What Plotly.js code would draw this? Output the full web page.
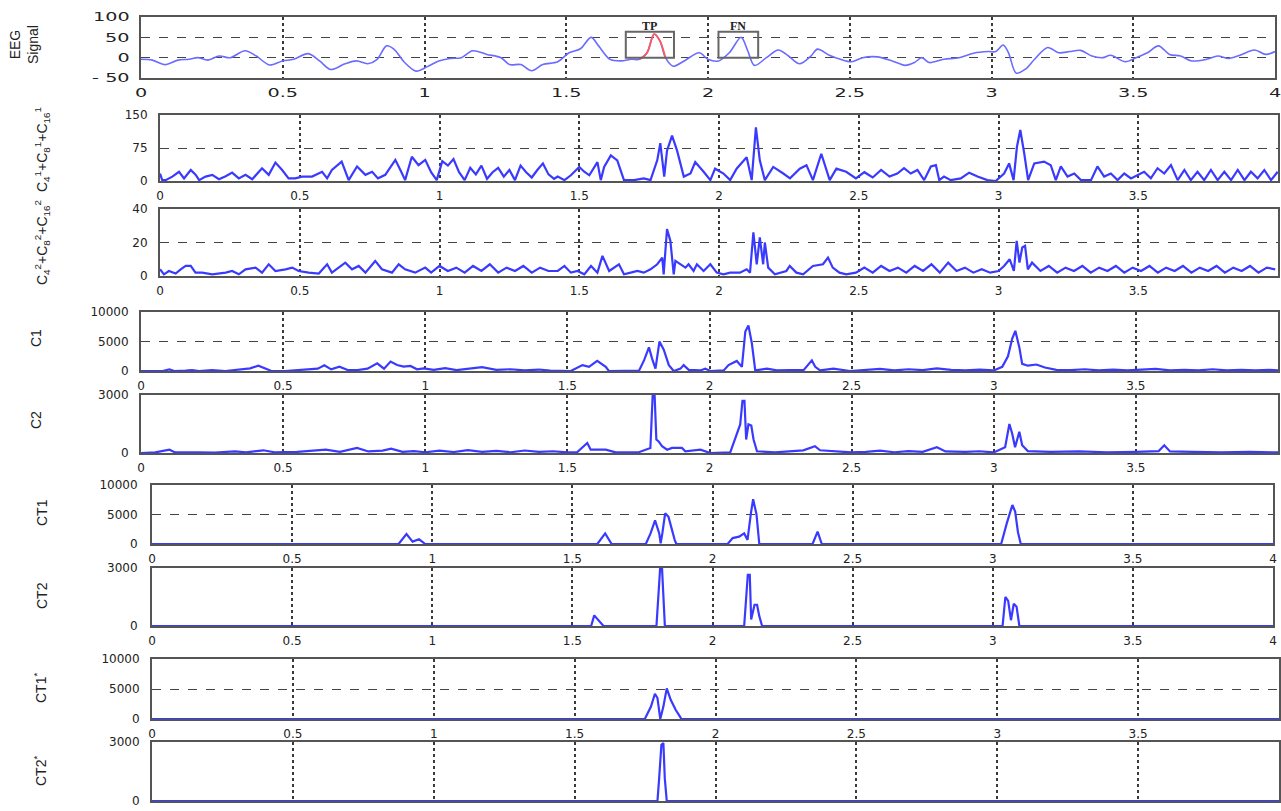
<!DOCTYPE html>
<html><head><meta charset="utf-8">
<script src="https://cdn.plot.ly/plotly-3.0.1.min.js"></script>
<style>html,body{margin:0;padding:0;background:#fff;}#chart{width:1281px;height:811px;}</style>
</head><body><div id="chart"></div>
<script>
// ---------- DATA ----------
const xTickVals = [0,0.5,1,1.5,2,2.5,3,3.5,4];
const xTickText = ['0','0.5','1','1.5','2','2.5','3','3.5','4'];

// EEG signal [time s, amplitude]
const eegSignal = [[0,-4],[0.04,-6],[0.085,-17],[0.13,-6],[0.17,-4],[0.2,0],[0.236,-6],[0.276,4],[0.315,0],[0.367,17],[0.407,4],[0.453,-18],[0.499,-8],[0.538,-4],[0.59,10],[0.63,-8],[0.669,-29],[0.72,-15],[0.76,-8],[0.8,-15],[0.833,-4],[0.866,29],[0.892,21],[0.93,-12],[0.97,-33],[1.01,-22],[1.05,-8],[1.09,-2],[1.13,0],[1.17,17],[1.22,8],[1.27,0],[1.3,-17],[1.34,-17],[1.378,-32],[1.417,-17],[1.47,-10],[1.51,12],[1.55,22],[1.588,50],[1.614,29],[1.654,-4],[1.693,-8],[1.73,-4],[1.758,-4],[1.785,12],[1.81,58],[1.83,42],[1.85,0],[1.877,-21],[1.916,-8],[1.969,12],[2.0,-4],[2.037,-8],[2.075,12],[2.117,50],[2.14,17],[2.164,-19],[2.206,0],[2.248,19],[2.284,4],[2.323,-15],[2.363,4],[2.386,21],[2.428,6],[2.467,-4],[2.506,-10],[2.545,0],[2.597,2],[2.65,-8],[2.695,-19],[2.728,-12],[2.754,0],[2.78,-12],[2.832,-4],[2.885,0],[2.937,11],[2.989,15],[3.015,15],[3.041,31],[3.06,12],[3.087,-38],[3.12,-28],[3.152,-4],[3.198,25],[3.237,12],[3.276,15],[3.315,18],[3.354,4],[3.393,0],[3.42,6],[3.472,-10],[3.51,0],[3.55,12],[3.589,29],[3.628,8],[3.667,4],[3.706,-8],[3.759,-4],[3.798,4],[3.837,-2],[3.876,6],[3.928,19],[3.967,8],[4.0,15]];
const tpSpan = [1.755, 1.855];          // red (true positive) part of the EEG
const tpBox = {t0:1.71, t1:1.88, top:64, label:'TP'};
const fnBox = {t0:2.037, t1:2.177, top:64, label:'FN'};

// C^1_4 + C^1_8 + C^1_16
const sumLevel1 = [[0,17],[0.008,2],[0.02,2],[0.044,10],[0.068,21],[0.086,6],[0.11,25],[0.128,14],[0.14,2],[0.163,10],[0.187,14],[0.211,4],[0.235,11],[0.258,19],[0.282,6],[0.306,14],[0.33,4],[0.365,29],[0.389,14],[0.413,42],[0.437,25],[0.46,6],[0.484,6],[0.508,10],[0.544,10],[0.58,21],[0.598,6],[0.615,25],[0.65,44],[0.675,2],[0.705,33],[0.735,14],[0.759,21],[0.78,6],[0.806,14],[0.842,48],[0.86,25],[0.877,2],[0.901,55],[0.925,36],[0.949,48],[0.97,20],[0.99,2],[1.01,45],[1.03,35],[1.05,50],[1.07,20],[1.09,2],[1.11,30],[1.13,15],[1.15,35],[1.17,5],[1.19,20],[1.21,30],[1.23,10],[1.25,25],[1.27,2],[1.29,35],[1.31,20],[1.33,8],[1.35,25],[1.37,40],[1.39,15],[1.41,5],[1.423,10],[1.447,2],[1.47,13],[1.5,32],[1.518,21],[1.536,13],[1.565,43],[1.577,2],[1.589,32],[1.613,58],[1.636,47],[1.66,2],[1.696,2],[1.731,6],[1.755,2],[1.779,47],[1.79,86],[1.804,10],[1.814,69],[1.832,103],[1.85,69],[1.874,10],[1.898,17],[1.915,43],[1.945,21],[1.969,2],[1.986,28],[2.016,17],[2.04,2],[2.063,28],[2.099,54],[2.117,2],[2.132,122],[2.146,47],[2.164,2],[2.194,32],[2.23,17],[2.254,6],[2.289,28],[2.313,36],[2.336,2],[2.366,62],[2.396,2],[2.42,28],[2.455,21],[2.49,6],[2.52,20],[2.55,8],[2.58,25],[2.61,10],[2.638,17],[2.662,29],[2.686,17],[2.71,25],[2.734,2],[2.758,33],[2.776,36],[2.788,2],[2.805,10],[2.829,2],[2.865,6],[2.895,19],[2.925,10],[2.96,2],[2.99,0],[3.02,17],[3.038,40],[3.054,2],[3.066,78],[3.078,116],[3.092,63],[3.106,2],[3.128,40],[3.163,44],[3.187,36],[3.205,2],[3.223,33],[3.247,10],[3.271,17],[3.295,2],[3.331,2],[3.354,33],[3.378,10],[3.402,17],[3.426,2],[3.45,17],[3.474,6],[3.498,13],[3.521,21],[3.545,6],[3.569,29],[3.593,17],[3.617,36],[3.641,2],[3.665,25],[3.688,2],[3.712,21],[3.736,2],[3.76,25],[3.784,2],[3.808,21],[3.832,2],[3.856,25],[3.88,2],[3.903,21],[3.927,6],[3.951,25],[3.975,2],[3.999,21]];

// C^2_4 + C^2_8 + C^2_16
const sumLevel2 = [[0,4],[0.014,1],[0.032,3],[0.056,1.5],[0.074,4],[0.092,6],[0.11,6],[0.127,2],[0.151,2],[0.187,1],[0.235,2],[0.258,3],[0.282,1],[0.306,4],[0.342,5],[0.365,2],[0.389,7],[0.413,3],[0.449,4],[0.473,5],[0.496,3],[0.532,2],[0.568,1.5],[0.598,7],[0.615,2],[0.663,8],[0.687,4],[0.711,6],[0.735,2],[0.77,9],[0.794,4],[0.83,2],[0.854,7],[0.877,4],[0.913,2],[0.949,5],[0.97,2],[1.0,6],[1.03,3],[1.06,5],[1.09,2],[1.12,6],[1.15,3],[1.18,7],[1.21,2],[1.24,5],[1.27,3],[1.3,6],[1.33,2],[1.36,5],[1.39,3],[1.423,3],[1.447,6],[1.47,2],[1.494,3],[1.518,1],[1.542,6],[1.565,2],[1.583,12],[1.607,3],[1.642,7],[1.66,1],[1.684,2],[1.708,3],[1.731,2],[1.755,4],[1.779,7],[1.797,11],[1.802,1],[1.814,28],[1.826,21],[1.838,1],[1.844,9],[1.862,7],[1.88,5],[1.891,7],[1.909,3],[1.921,7],[1.945,3],[1.969,7],[1.992,2],[2.016,1],[2.04,2],[2.075,2],[2.099,4],[2.111,2],[2.123,26],[2.135,7],[2.146,23],[2.158,7],[2.164,20],[2.176,5],[2.2,1],[2.241,3],[2.253,6],[2.277,2],[2.301,1],[2.336,6],[2.372,7],[2.39,11],[2.407,5],[2.431,2],[2.455,1],[2.49,2],[2.52,5],[2.55,2],[2.58,6],[2.61,3],[2.64,5],[2.67,2],[2.7,6],[2.73,3],[2.76,7],[2.79,2],[2.82,8],[2.85,3],[2.88,5],[2.91,2],[2.94,4],[2.97,2],[3.0,3],[3.02,6],[3.04,10],[3.055,3],[3.065,21],[3.075,8],[3.085,17],[3.095,18],[3.105,4],[3.12,8],[3.15,3],[3.18,6],[3.21,2],[3.24,5],[3.27,3],[3.3,6],[3.33,2],[3.36,5],[3.39,3],[3.42,6],[3.45,2],[3.48,5],[3.51,3],[3.54,6],[3.57,2],[3.6,5],[3.63,3],[3.66,6],[3.69,2],[3.72,5],[3.75,3],[3.78,6],[3.81,2],[3.84,5],[3.87,3],[3.9,6],[3.93,2],[3.96,5],[3.99,4]];

// C1
const c1 = [[0,0],[0.076,0],[0.1,280],[0.117,0],[0.157,50],[0.18,170],[0.204,0],[0.25,170],[0.297,0],[0.343,280],[0.384,450],[0.413,900],[0.436,450],[0.459,0],[0.506,0],[0.552,170],[0.587,280],[0.622,400],[0.645,970],[0.669,280],[0.698,740],[0.727,170],[0.762,170],[0.797,400],[0.831,1300],[0.855,400],[0.878,1590],[0.901,1020],[0.924,740],[0.948,850],[0.971,280],[0.994,450],[1.03,200],[1.07,500],[1.11,150],[1.16,400],[1.2,650],[1.25,200],[1.3,300],[1.35,100],[1.4,250],[1.44,50],[1.465,0],[1.512,0],[1.553,1000],[1.576,700],[1.605,1700],[1.635,700],[1.646,0],[1.699,0],[1.752,50],[1.77,1840],[1.787,4000],[1.798,2100],[1.81,400],[1.824,5000],[1.839,3600],[1.857,1000],[1.874,0],[1.898,400],[1.909,1000],[1.927,200],[1.968,100],[1.985,400],[2.003,0],[2.05,100],[2.067,1000],[2.096,1700],[2.114,700],[2.126,6700],[2.137,7700],[2.149,4700],[2.161,100],[2.202,400],[2.237,100],[2.284,150],[2.331,150],[2.36,1800],[2.372,700],[2.389,100],[2.436,400],[2.494,0],[2.55,200],[2.6,350],[2.65,100],[2.7,300],[2.75,150],[2.8,450],[2.85,200],[2.9,100],[2.95,250],[3.0,100],[3.03,700],[3.05,2500],[3.065,5500],[3.076,6800],[3.09,4000],[3.1,1200],[3.12,900],[3.15,1100],[3.18,600],[3.22,200],[3.27,150],[3.32,300],[3.37,100],[3.42,250],[3.47,100],[3.52,200],[3.57,350],[3.62,100],[3.67,200],[3.72,100],[3.77,300],[3.82,100],[3.87,200],[3.92,100],[3.97,200],[4.0,100]];

// C2
const c2 = [[0,0],[0.05,30],[0.1,170],[0.12,30],[0.2,40],[0.26,20],[0.33,85],[0.37,30],[0.43,140],[0.47,40],[0.55,60],[0.6,120],[0.65,170],[0.7,60],[0.76,260],[0.8,80],[0.85,120],[0.88,220],[0.92,60],[0.96,100],[1.0,40],[1.05,120],[1.1,50],[1.15,150],[1.2,60],[1.25,110],[1.3,40],[1.35,130],[1.4,60],[1.45,90],[1.5,30],[1.535,50],[1.57,520],[1.582,170],[1.635,170],[1.67,30],[1.749,30],[1.792,260],[1.8,2960],[1.807,2960],[1.813,700],[1.821,600],[1.833,350],[1.851,170],[1.868,260],[1.903,260],[1.915,90],[1.968,170],[2.003,0],[2.073,30],[2.108,1480],[2.116,2700],[2.123,2700],[2.129,700],[2.137,1480],[2.147,1420],[2.155,700],[2.167,90],[2.23,30],[2.33,140],[2.371,350],[2.389,140],[2.45,60],[2.5,30],[2.55,60],[2.6,120],[2.65,40],[2.7,100],[2.75,60],[2.8,300],[2.83,80],[2.9,60],[2.95,90],[3.0,30],[3.04,300],[3.055,1500],[3.065,1000],[3.075,300],[3.09,1100],[3.1,400],[3.12,100],[3.2,60],[3.3,80],[3.4,40],[3.5,60],[3.58,100],[3.6,400],[3.62,80],[3.7,60],[3.8,40],[3.9,60],[4.0,30]];

// CT1, CT2 (thresholded)
const ct1 = [[0,0],[0.88,0],[0.908,1700],[0.93,400],[0.953,800],[0.975,0],[1.589,0],[1.617,1800],[1.64,0],[1.762,0],[1.779,1800],[1.795,4000],[1.81,1800],[1.815,100],[1.821,1800],[1.831,5200],[1.843,4600],[1.857,1800],[1.865,700],[1.871,0],[2.054,0],[2.072,1000],[2.095,1250],[2.113,1800],[2.125,700],[2.137,5200],[2.145,7600],[2.157,5000],[2.167,0],[2.357,0],[2.375,2100],[2.39,0],[3.03,0],[3.05,3500],[3.07,6600],[3.08,5500],[3.09,2000],[3.1,0],[4,0]];
const ct2 = [[0,0],[1.567,0],[1.578,550],[1.594,260],[1.611,0],[1.8,0],[1.806,1370],[1.813,2950],[1.82,2950],[1.824,1370],[1.83,0],[2.113,0],[2.119,1370],[2.126,2650],[2.133,2650],[2.138,340],[2.15,1100],[2.159,1100],[2.167,510],[2.177,0],[3.035,0],[3.045,1500],[3.055,1300],[3.065,300],[3.075,1150],[3.085,1000],[3.095,0],[4,0]];

// CT1*, CT2*
const ct1Star = [[0,0],[1.749,0],[1.771,2070],[1.785,4200],[1.794,3500],[1.804,0],[1.815,2070],[1.827,5100],[1.841,3200],[1.859,1500],[1.874,400],[1.879,0],[4,0]];
const ct2Star = [[0,0],[1.794,0],[1.8,1150],[1.808,2860],[1.815,2950],[1.82,1150],[1.827,0],[4,0]];

// ---------- LAYOUT ----------
const W = 1281, H = 811;
const fx = p => p / W;
const fy = p => 1 - p / H;

const panels = [
  {data: eegSignal, xd:[141,1275], yd:[17,78],  range:[-50,100],  tv:[-50,0,50,100], tt:['- 50','0','50','100'], title:'EEG<br>Signal', tx:24, ty:45, eeg:true, ys:7},
  {data: sumLevel1, xd:[160,1278], yd:[115,181], range:[0,150],   tv:[0,75,150], tt:['0','75','150'], title:'C<sub>4</sub><sup>1</sup>+C<sub>8</sub><sup>1</sup>+C<sub>16</sub><sup>1</sup>', tx:42, ty:150, ys:8},
  {data: sumLevel2, xd:[160,1278], yd:[209,276], range:[0,40],    tv:[0,20,40], tt:['0','20','40'], title:'C<sub>4</sub><sup>2</sup>+C<sub>8</sub><sup>2</sup>+C<sub>16</sub><sup>2</sup>', tx:42, ty:243, ys:8},
  {data: c1,        xd:[141,1278], yd:[312,371], range:[0,10000], tv:[0,5000,10000], tt:['0','5000','10000'], title:'C1', tx:36, ty:338, ys:8},
  {data: c2,        xd:[141,1278], yd:[395,453], range:[0,3000],  tv:[0,3000], tt:['0','3000'], title:'C2', tx:36, ty:420, ys:8},
  {data: ct1,       xd:[152,1273], yd:[485,544], range:[0,10000], tv:[0,5000,10000], tt:['0','5000','10000'], title:'CT1', tx:42, ty:513, ys:10},
  {data: ct2,       xd:[152,1273], yd:[568,626], range:[0,3000],  tv:[0,3000], tt:['0','3000'], title:'CT2', tx:42, ty:596, ys:10},
  {data: ct1Star,   xd:[152,1279], yd:[659,719], range:[0,10000], tv:[0,5000,10000], tt:['0','5000','10000'], title:'CT1<sup>*</sup>', tx:40, ty:688, ys:8},
  {data: ct2Star,   xd:[152,1279], yd:[742,801], range:[0,3000],  tv:[0,3000], tt:['0','3000'], title:'CT2<sup>*</sup>', tx:40, ty:771, ys:8}
];

const tickFont = {family:'DejaVu Sans, Liberation Sans, Arial', size:12, color:'#222'};
const layout = {
  width: W, height: H, margin:{l:0,r:0,t:0,b:0},
  paper_bgcolor:'#fff', plot_bgcolor:'#fff', showlegend:false,
  annotations: [], shapes: []
};
const traces = [];

panels.forEach((p, i) => {
  const n = i === 0 ? '' : String(i + 1);
  layout['xaxis' + n] = {
    domain:[fx(p.xd[0]), fx(p.xd[1])], anchor:'y' + n, range:[0,4],
    tickmode:'array', tickvals:xTickVals, ticktext:xTickText,
    showgrid:true, gridcolor:'#3a3a3a', griddash:'dot', gridwidth:2,
    showline:true, mirror:true, linecolor:'#555', linewidth:2,
    zeroline:false, ticks:'', tickfont:tickFont, layer:'below traces', fixedrange:true,
    ticklabelstandoff:3
  };
  layout['yaxis' + n] = {
    domain:[fy(p.yd[1]), fy(p.yd[0])], anchor:'x' + n, range:p.range,
    tickmode:'array', tickvals:p.tv, ticktext:p.tt,
    showgrid:true, gridcolor:'#444', griddash:'dash', gridwidth:1,
    showline:true, mirror:true, linecolor:'#555', linewidth:2,
    zeroline:false, ticks:'', tickfont:tickFont, layer:'below traces', fixedrange:true,
    ticklabelstandoff:p.ys
  };
  traces.push({
    x: p.data.map(d => d[0]), y: p.data.map(d => d[1]),
    xaxis:'x' + n, yaxis:'y' + n, mode:'lines', hoverinfo:'skip',
    line: p.eeg ? {color:'#6b6bff', width:1.6, shape:'spline', smoothing:0.9}
                : {color:'#3a3aff', width:2.2}
  });
  layout.annotations.push({
    xref:'paper', yref:'paper', x:fx(p.tx), y:fy(p.ty), text:p.title, textangle:-90,
    showarrow:false, xanchor:'center', yanchor:'middle',
    font:{family:'Liberation Sans, Arial', size:14, color:'#222'}
  });
});

// red TP segment of EEG
const tpPart = eegSignal.filter(d => d[0] >= tpSpan[0] && d[0] <= tpSpan[1]);
traces.push({x: tpPart.map(d => d[0]), y: tpPart.map(d => d[1]), xaxis:'x', yaxis:'y',
  mode:'lines', hoverinfo:'skip', line:{color:'#ff5a5a', width:1.8, shape:'spline', smoothing:0.9}});

// TP / FN boxes
[tpBox, fnBox].forEach(b => {
  layout.shapes.push({type:'rect', xref:'x', yref:'y', x0:b.t0, x1:b.t1, y0:0, y1:b.top,
    line:{color:'#666', width:2}, fillcolor:'rgba(0,0,0,0)'});
  layout.annotations.push({xref:'x', yref:'y', x:(b.t0 + b.t1) / 2, y:b.top, text:'<b>' + b.label + '</b>',
    showarrow:false, xanchor:'center', yanchor:'bottom', yshift:-3,
    font:{family:'Liberation Serif, Times New Roman', size:12, color:'#222'}});
});

// the reference's tick numbers are drawn horizontally stretched
const tickStretch = 1.6;
Plotly.newPlot('chart', traces, layout, {staticPlot:true}).then(gd => {
  gd.querySelectorAll('.xtick text, .ytick text').forEach(t => {
    const len = t.getComputedTextLength();
    if (len > 0) {
      t.setAttribute('textLength', (len * tickStretch).toFixed(1));
      t.setAttribute('lengthAdjust', 'spacingAndGlyphs');
    }
  });
});
</script></body></html>
